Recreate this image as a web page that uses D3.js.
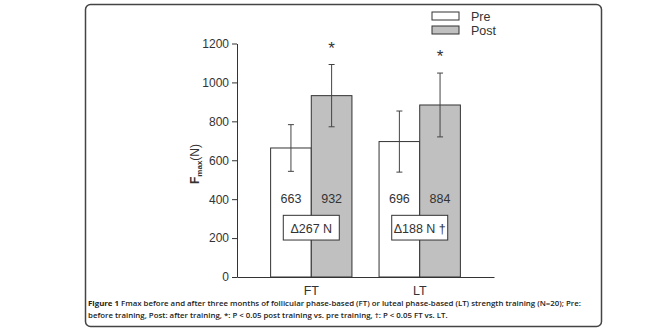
<!DOCTYPE html>
<html>
<head>
<meta charset="utf-8">
<script src="https://cdn.jsdelivr.net/npm/d3@7"></script>
<style>
  html, body { margin: 0; padding: 0; background: #fff; }
  svg { display: block; }
  text { font-family: "Liberation Sans", Arial, sans-serif; }
</style>
</head>
<body>
<svg id="chart" width="660" height="330"></svg>
<script>
// Fmax (N) before and after training, by training phase
const groups = ["FT", "LT"];
const series = ["Pre", "Post"];
const preMean = [663, 696];
const postMean = [932, 884];
const preSD = [120, 157];
const postSD = [160, 164];
const deltaLabels = ["\u0394267 N", "\u0394188 N \u2020"];
const starred = [true, true];
const yTicks = [0, 200, 400, 600, 800, 1000, 1200];
const captionLines = [
  ["Figure 1", " Fmax before and after three months of follicular phase-based (FT) or luteal phase-based (LT) strength training (N=20); Pre:"],
  ["", "before training, Post: after training, *: P < 0.05 post training vs. pre training, \u2020: P < 0.05 FT vs. LT."]
];

const svg = d3.select("#chart");
const ink = "#333";

// outer rounded frame
svg.append("rect")
  .attr("x", 85.5).attr("y", 4.5).attr("width", 516).attr("height", 322)
  .attr("rx", 5).attr("fill", "#fff")
  .attr("stroke", "#444").attr("stroke-width", 1.5);

const y = d3.scaleLinear().domain([0, 1200]).range([277, 43.5]);
const x0 = d3.scaleBand().domain(groups).range([237, 494])
  .paddingInner(0.25).paddingOuter(0.31);
const x1 = d3.scaleBand().domain(series).range([0, x0.bandwidth()]);
const fill = d3.scaleOrdinal().domain(series).range(["#ffffff", "#c0c0c0"]);

const rows = groups.map((g, i) => ({
  group: g,
  vals: [
    { s: "Pre", v: preMean[i], sd: preSD[i] },
    { s: "Post", v: postMean[i], sd: postSD[i] }
  ],
  delta: deltaLabels[i],
  star: starred[i]
}));

// y axis
const yAxis = svg.append("g").attr("transform", "translate(237,0)")
  .call(d3.axisLeft(y).tickValues(yTicks).tickFormat(d3.format("d"))
    .tickSize(5).tickSizeOuter(0).tickPadding(3));
yAxis.select(".domain").attr("stroke", ink);
yAxis.selectAll(".tick line").attr("stroke", ink);
yAxis.selectAll(".tick text").attr("fill", ink)
  .style("font-size", "12px").style("font-family", "Liberation Sans, Arial, sans-serif");

// bars
const gGroups = svg.append("g").selectAll("g").data(rows).join("g")
  .attr("transform", d => `translate(${x0(d.group)},0)`);

gGroups.selectAll("rect.bar").data(d => d.vals).join("rect")
  .attr("class", "bar")
  .attr("x", d => x1(d.s)).attr("width", x1.bandwidth())
  .attr("y", d => y(d.v)).attr("height", d => y(0) - y(d.v))
  .attr("fill", d => fill(d.s))
  .attr("stroke", ink).attr("stroke-width", 1);

// error bars
const eb = gGroups.selectAll("g.err").data(d => d.vals).join("g")
  .attr("class", "err")
  .attr("transform", d => `translate(${x1(d.s) + x1.bandwidth() / 2},0)`)
  .attr("stroke", "#444").attr("stroke-width", 1);
eb.append("line").attr("y1", d => y(d.v + d.sd)).attr("y2", d => y(d.v - d.sd));
eb.append("line").attr("x1", -3).attr("x2", 3)
  .attr("y1", d => y(d.v + d.sd)).attr("y2", d => y(d.v + d.sd));
eb.append("line").attr("x1", -3).attr("x2", 3)
  .attr("y1", d => y(d.v - d.sd)).attr("y2", d => y(d.v - d.sd));

// mean values written inside the bars
gGroups.selectAll("text.val").data(d => d.vals).join("text")
  .attr("class", "val")
  .attr("x", d => x1(d.s) + x1.bandwidth() / 2)
  .attr("y", y(400) + 4)
  .attr("text-anchor", "middle")
  .attr("fill", ink).style("font-size", "12.5px")
  .text(d => d.v);

// significance asterisks above the post bars
gGroups.filter(d => d.star).append("text")
  .attr("x", x1("Post") + x1.bandwidth() / 2)
  .attr("y", d => y(d.vals[1].v + d.vals[1].sd) - 11)
  .attr("text-anchor", "middle")
  .attr("fill", ink).style("font-size", "17px")
  .text("*");

// change boxes
const dBox = gGroups.append("g")
  .attr("transform", `translate(${x0.bandwidth() / 2},0)`);
dBox.append("rect")
  .attr("x", -28).attr("width", 56)
  .attr("y", y(317)).attr("height", y(190) - y(317))
  .attr("fill", "#fff").attr("stroke", ink).attr("stroke-width", 1);
dBox.append("text")
  .attr("x", 0).attr("y", y(250) + 4.5)
  .attr("text-anchor", "middle")
  .attr("fill", ink).style("font-size", "12.5px")
  .text(d => d.delta);

// x axis
const xAxis = svg.append("g").attr("transform", `translate(0,${y(0)})`)
  .call(d3.axisBottom(x0).tickSize(0).tickSizeOuter(0).tickPadding(9));
xAxis.select(".domain").attr("stroke", ink);
xAxis.selectAll(".tick text").attr("fill", ink)
  .style("font-size", "12.5px").style("font-family", "Liberation Sans, Arial, sans-serif");

// y axis title: F_max (N)
const yTitle = svg.append("text")
  .attr("transform", "translate(199,164) rotate(-90)")
  .attr("text-anchor", "middle")
  .attr("fill", ink).style("font-size", "12px");
yTitle.append("tspan").attr("font-weight", "bold").text("F");
yTitle.append("tspan").attr("font-weight", "bold").attr("dy", 3)
  .style("font-size", "8px").text("max");
yTitle.append("tspan").attr("dy", -3).text("(N)");

// legend
const leg = svg.append("g").selectAll("g").data(series).join("g")
  .attr("transform", (d, i) => `translate(432,${12 + i * 14})`);
leg.append("rect").attr("width", 27).attr("height", 8)
  .attr("fill", d => fill(d)).attr("stroke", ink).attr("stroke-width", 1);
leg.append("text").attr("x", 39).attr("y", 8.5)
  .attr("fill", ink).style("font-size", "12.5px").text(d => d);

// caption
const cap = svg.append("g").selectAll("text").data(captionLines).join("text")
  .attr("x", 88).attr("y", (d, i) => 306 + i * 11.5)
  .attr("fill", "#222")
  .style("font-family", "Open Sans, Noto Sans, sans-serif")
  .style("font-size", "7.85px");
cap.append("tspan").attr("font-weight", "bold").text(d => d[0]);
cap.append("tspan").attr("font-weight", 600).text(d => d[1]);
</script>
</body>
</html>
